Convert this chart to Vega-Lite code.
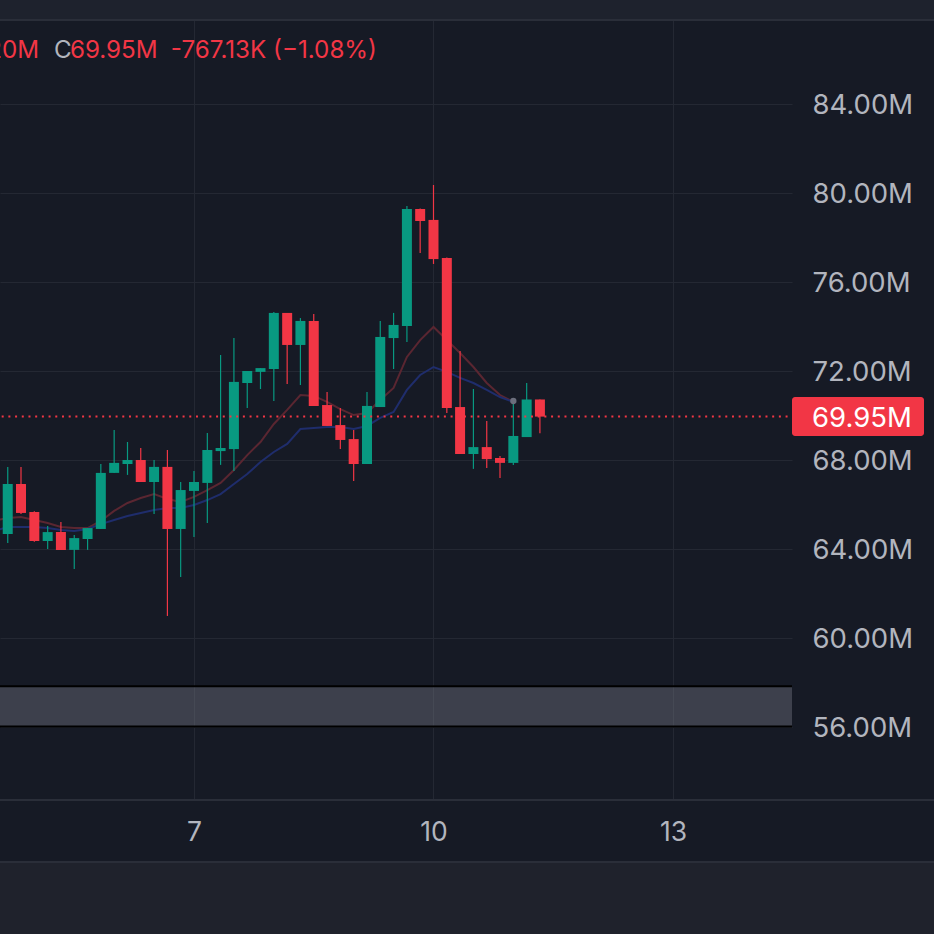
{
  "$schema": "https://vega.github.io/schema/vega-lite/v6.json",
  "width": 792,
  "height": 780,
  "autosize": {"type": "none"},
  "padding": {"left": 0, "top": 20, "right": 142, "bottom": 134},
  "background": "#161a25",
  "config": {
    "view": {"stroke": null, "fill": "#161a25"},
    "font": "Inter",
    "axis": {"labelFont": "Inter", "labelColor": "#b2b5be", "gridColor": "#242833", "gridWidth": 1, "ticks": false, "tickSize": 0, "domain": false, "title": null}
  },
  "datasets": {
    "candles": [
      {"t": 4.5, "o": 63.85, "h": 64.75, "l": 63.82, "c": 64.72},
      {"t": 4.667, "o": 64.67, "h": 67.69, "l": 64.27, "c": 66.92},
      {"t": 4.833, "o": 66.92, "h": 67.69, "l": 65.57, "c": 65.62},
      {"t": 5.0, "o": 65.66, "h": 65.7, "l": 64.33, "c": 64.36},
      {"t": 5.167, "o": 64.36, "h": 65.03, "l": 64.0, "c": 64.76},
      {"t": 5.333, "o": 64.76, "h": 65.21, "l": 63.96, "c": 63.96},
      {"t": 5.5, "o": 63.96, "h": 64.63, "l": 63.1, "c": 64.49},
      {"t": 5.667, "o": 64.45, "h": 64.94, "l": 63.96, "c": 64.94},
      {"t": 5.833, "o": 64.9, "h": 67.82, "l": 64.9, "c": 67.42},
      {"t": 6.0, "o": 67.42, "h": 69.35, "l": 67.42, "c": 67.87},
      {"t": 6.167, "o": 67.82, "h": 68.81, "l": 67.33, "c": 68.0},
      {"t": 6.333, "o": 68.0, "h": 68.54, "l": 67.01, "c": 67.01},
      {"t": 6.5, "o": 67.01, "h": 68.0, "l": 65.57, "c": 67.69},
      {"t": 6.667, "o": 67.69, "h": 68.45, "l": 60.99, "c": 64.9},
      {"t": 6.833, "o": 64.9, "h": 67.01, "l": 62.74, "c": 66.65},
      {"t": 7.0, "o": 66.61, "h": 67.51, "l": 64.54, "c": 67.01},
      {"t": 7.167, "o": 66.97, "h": 69.21, "l": 65.17, "c": 68.45},
      {"t": 7.333, "o": 68.4, "h": 72.72, "l": 67.78, "c": 68.54},
      {"t": 7.5, "o": 68.49, "h": 73.48, "l": 67.51, "c": 71.51},
      {"t": 7.667, "o": 71.46, "h": 72.0, "l": 70.34, "c": 72.0},
      {"t": 7.833, "o": 71.96, "h": 72.13, "l": 71.19, "c": 72.13},
      {"t": 8.0, "o": 72.09, "h": 74.65, "l": 70.65, "c": 74.61},
      {"t": 8.167, "o": 74.61, "h": 74.61, "l": 71.42, "c": 73.17},
      {"t": 8.333, "o": 73.17, "h": 74.38, "l": 71.37, "c": 74.25},
      {"t": 8.5, "o": 74.25, "h": 74.56, "l": 70.43, "c": 70.43},
      {"t": 8.667, "o": 70.47, "h": 71.06, "l": 69.53, "c": 69.53},
      {"t": 8.833, "o": 69.57, "h": 70.34, "l": 68.49, "c": 68.9},
      {"t": 9.0, "o": 68.94, "h": 69.35, "l": 67.06, "c": 67.82},
      {"t": 9.167, "o": 67.82, "h": 71.06, "l": 67.82, "c": 70.43},
      {"t": 9.333, "o": 70.38, "h": 74.25, "l": 70.38, "c": 73.53},
      {"t": 9.5, "o": 73.48, "h": 74.61, "l": 72.09, "c": 74.07},
      {"t": 9.667, "o": 74.02, "h": 79.42, "l": 73.3, "c": 79.28},
      {"t": 9.833, "o": 79.28, "h": 79.3, "l": 77.3, "c": 78.74},
      {"t": 10.0, "o": 78.79, "h": 80.36, "l": 76.81, "c": 77.03},
      {"t": 10.167, "o": 77.08, "h": 77.1, "l": 70.11, "c": 70.34},
      {"t": 10.333, "o": 70.38, "h": 72.9, "l": 68.27, "c": 68.27},
      {"t": 10.5, "o": 68.27, "h": 71.19, "l": 67.6, "c": 68.58},
      {"t": 10.667, "o": 68.58, "h": 69.75, "l": 67.64, "c": 68.04},
      {"t": 10.833, "o": 68.09, "h": 68.18, "l": 67.19, "c": 67.87},
      {"t": 11.0, "o": 67.87, "h": 70.65, "l": 67.78, "c": 69.08},
      {"t": 11.167, "o": 69.03, "h": 71.46, "l": 69.03, "c": 70.72},
      {"t": 11.333, "o": 70.72, "h": 70.72, "l": 69.2, "c": 69.95}
    ],
    "ma": [
      {"t": 4.5, "v": 65.28, "s": "fast"}, {"t": 4.667, "v": 65.39, "s": "fast"}, {"t": 4.833, "v": 65.44, "s": "fast"}, {"t": 5.0, "v": 65.3, "s": "fast"},
      {"t": 5.167, "v": 65.17, "s": "fast"}, {"t": 5.333, "v": 64.99, "s": "fast"}, {"t": 5.5, "v": 64.94, "s": "fast"}, {"t": 5.667, "v": 64.94, "s": "fast"},
      {"t": 5.833, "v": 65.26, "s": "fast"}, {"t": 6.0, "v": 65.71, "s": "fast"}, {"t": 6.167, "v": 66.07, "s": "fast"}, {"t": 6.333, "v": 66.29, "s": "fast"},
      {"t": 6.5, "v": 66.47, "s": "fast"}, {"t": 6.667, "v": 66.25, "s": "fast"}, {"t": 6.833, "v": 66.11, "s": "fast"}, {"t": 7.0, "v": 66.34, "s": "fast"},
      {"t": 7.167, "v": 66.65, "s": "fast"}, {"t": 7.333, "v": 66.97, "s": "fast"}, {"t": 7.5, "v": 67.55, "s": "fast"}, {"t": 7.667, "v": 68.22, "s": "fast"},
      {"t": 7.833, "v": 68.81, "s": "fast"}, {"t": 8.0, "v": 69.62, "s": "fast"}, {"t": 8.167, "v": 70.25, "s": "fast"}, {"t": 8.333, "v": 70.92, "s": "fast"},
      {"t": 8.5, "v": 70.88, "s": "fast"}, {"t": 8.667, "v": 70.61, "s": "fast"}, {"t": 8.833, "v": 70.29, "s": "fast"}, {"t": 9.0, "v": 70.02, "s": "fast"},
      {"t": 9.167, "v": 70.11, "s": "fast"}, {"t": 9.333, "v": 70.7, "s": "fast"}, {"t": 9.5, "v": 71.24, "s": "fast"}, {"t": 9.667, "v": 72.63, "s": "fast"},
      {"t": 9.833, "v": 73.39, "s": "fast"}, {"t": 10.0, "v": 73.98, "s": "fast"}, {"t": 10.167, "v": 73.39, "s": "fast"}, {"t": 10.333, "v": 72.81, "s": "fast"},
      {"t": 10.5, "v": 72.18, "s": "fast"}, {"t": 10.667, "v": 71.46, "s": "fast"}, {"t": 10.833, "v": 70.92, "s": "fast"}, {"t": 11.0, "v": 70.61, "s": "fast"},
      {"t": 4.5, "v": 64.81, "s": "slow"}, {"t": 4.667, "v": 64.99, "s": "slow"}, {"t": 4.833, "v": 64.99, "s": "slow"}, {"t": 5.0, "v": 64.99, "s": "slow"},
      {"t": 5.167, "v": 64.94, "s": "slow"}, {"t": 5.333, "v": 64.85, "s": "slow"}, {"t": 5.5, "v": 64.81, "s": "slow"}, {"t": 5.667, "v": 64.9, "s": "slow"},
      {"t": 5.833, "v": 65.12, "s": "slow"}, {"t": 6.0, "v": 65.3, "s": "slow"}, {"t": 6.167, "v": 65.48, "s": "slow"}, {"t": 6.333, "v": 65.62, "s": "slow"},
      {"t": 6.5, "v": 65.75, "s": "slow"}, {"t": 6.667, "v": 65.84, "s": "slow"}, {"t": 6.833, "v": 65.84, "s": "slow"}, {"t": 7.0, "v": 65.98, "s": "slow"},
      {"t": 7.167, "v": 66.2, "s": "slow"}, {"t": 7.333, "v": 66.47, "s": "slow"}, {"t": 7.5, "v": 66.92, "s": "slow"}, {"t": 7.667, "v": 67.37, "s": "slow"},
      {"t": 7.833, "v": 67.91, "s": "slow"}, {"t": 8.0, "v": 68.36, "s": "slow"}, {"t": 8.167, "v": 68.72, "s": "slow"}, {"t": 8.333, "v": 69.39, "s": "slow"},
      {"t": 8.5, "v": 69.44, "s": "slow"}, {"t": 8.667, "v": 69.48, "s": "slow"}, {"t": 8.833, "v": 69.48, "s": "slow"}, {"t": 9.0, "v": 69.39, "s": "slow"},
      {"t": 9.167, "v": 69.53, "s": "slow"}, {"t": 9.333, "v": 69.89, "s": "slow"}, {"t": 9.5, "v": 70.16, "s": "slow"}, {"t": 9.667, "v": 71.15, "s": "slow"},
      {"t": 9.833, "v": 71.82, "s": "slow"}, {"t": 10.0, "v": 72.18, "s": "slow"}, {"t": 10.167, "v": 71.96, "s": "slow"}, {"t": 10.333, "v": 71.69, "s": "slow"},
      {"t": 10.5, "v": 71.46, "s": "slow"}, {"t": 10.667, "v": 71.15, "s": "slow"}, {"t": 10.833, "v": 70.83, "s": "slow"}, {"t": 11.0, "v": 70.61, "s": "slow"}
    ]
  },
  "encoding": {
    "x": {
      "field": "t", "type": "quantitative",
      "scale": {"domain": [4.57, 14.4906], "nice": false, "zero": false, "padding": 0},
      "axis": {"orient": "bottom", "values": [7, 10, 13], "format": "d", "grid": true, "labelBaseline": "middle", "labelPadding": 32, "labelFontSize": 26.5}
    },
    "y": {
      "field": "v", "type": "quantitative",
      "scale": {"domain": [52.719, 87.775], "nice": false, "zero": false, "padding": 0},
      "axis": {"orient": "right", "values": [56, 60, 64, 68, 72, 76, 80, 84], "labelExpr": "format(datum.value, '.2f') + 'M'", "grid": true, "labelAlign": "left", "labelBaseline": "middle", "labelPadding": 20, "labelOffset": 2, "labelFontSize": 27.5}
    }
  },
  "layer": [
    {
      "data": {"values": [{"t": 3.5, "t2": 17.5, "v": 87.775, "v2": 92}]},
      "mark": {"type": "rect", "fill": "#1e222d", "stroke": "#2a2e39", "strokeWidth": 2},
      "encoding": {"x2": {"field": "t2"}, "y2": {"field": "v2"}}
    },
    {
      "data": {"values": [{"t": 3.5, "t2": 17.5, "v": 49.93, "v2": 44}]},
      "mark": {"type": "rect", "fill": "#1f222c", "stroke": "#2a2e39", "strokeWidth": 2},
      "encoding": {"x2": {"field": "t2"}, "y2": {"field": "v2"}}
    },
    {
      "data": {"values": [{"t": 3.5, "t2": 17.5, "v": 52.719}]},
      "mark": {"type": "rule", "stroke": "#2a2e39", "strokeWidth": 2},
      "encoding": {"x2": {"field": "t2"}}
    },
    {
      "data": {"values": [{"t": 3.5, "t2": 14.4906, "v": 57.8, "v2": 56.045}]},
      "mark": {"type": "rect", "fill": "#787b86", "fillOpacity": 0.4},
      "encoding": {"x2": {"field": "t2"}, "y2": {"field": "v2"}}
    },
    {
      "data": {"values": [{"t": 3.5, "t2": 14.4906, "v": 57.83}, {"t": 3.5, "t2": 14.4906, "v": 56.02}]},
      "mark": {"type": "rule", "stroke": "#000000", "strokeWidth": 2},
      "encoding": {"x2": {"field": "t2"}}
    },
    {
      "data": {"name": "ma"},
      "mark": {"type": "line", "strokeWidth": 2},
      "encoding": {
        "color": {"field": "s", "type": "nominal", "scale": {"domain": ["fast", "slow"], "range": ["#5a2631", "#1f2d6c"]}, "legend": null}
      }
    },
    {
      "data": {"name": "candles"},
      "mark": {"type": "rule", "strokeWidth": 1.2},
      "encoding": {
        "y": {"field": "l", "type": "quantitative", "scale": {"domain": [52.719, 87.775], "nice": false, "zero": false, "padding": 0},
          "axis": {"orient": "right", "values": [56, 60, 64, 68, 72, 76, 80, 84], "labelExpr": "format(datum.value, '.2f') + 'M'", "grid": true, "labelAlign": "left", "labelBaseline": "middle", "labelPadding": 20, "labelOffset": 2, "labelFontSize": 27.5}},
        "y2": {"field": "h"},
        "color": {"condition": {"test": "datum.c >= datum.o", "value": "#089981"}, "value": "#f23645"}
      }
    },
    {
      "data": {"name": "candles"},
      "mark": {"type": "bar", "size": 10},
      "encoding": {
        "y": {"field": "o", "type": "quantitative", "scale": {"domain": [52.719, 87.775], "nice": false, "zero": false, "padding": 0},
          "axis": {"orient": "right", "values": [56, 60, 64, 68, 72, 76, 80, 84], "labelExpr": "format(datum.value, '.2f') + 'M'", "grid": true, "labelAlign": "left", "labelBaseline": "middle", "labelPadding": 20, "labelOffset": 2, "labelFontSize": 27.5}},
        "y2": {"field": "c"},
        "color": {"condition": {"test": "datum.c >= datum.o", "value": "#089981"}, "value": "#f23645"}
      }
    },
    {
      "data": {"values": [{"t": 3.5, "t2": 14.4906, "v": 69.95}]},
      "mark": {"type": "rule", "stroke": "#f23645", "strokeWidth": 2, "strokeDash": [2, 4.7]},
      "encoding": {"x2": {"field": "t2"}}
    },
    {
      "data": {"values": [{"t": 11.0, "v": 70.65}]},
      "mark": {"type": "point", "filled": true, "size": 40, "color": "#6b6e7c", "opacity": 1}
    },
    {
      "data": {"values": [{"t": 14.4906, "t2": 16.144, "v": 70.83, "v2": 69.08}]},
      "mark": {"type": "rect", "fill": "#f23645", "cornerRadius": 3},
      "encoding": {"x2": {"field": "t2"}, "y2": {"field": "v2"}}
    },
    {
      "data": {"values": [{"t": 14.741, "v": 69.95, "txt": "69.95M"}]},
      "mark": {"type": "text", "align": "left", "baseline": "middle", "dy": 2, "font": "Inter", "fontSize": 27.5, "color": "#ffffff"},
      "encoding": {"text": {"field": "txt"}}
    },
    {
      "data": {"values": [{"t": 5.059, "v": 86.38, "txt": "L69.20M", "part": "val"}]},
      "mark": {"type": "text", "align": "right", "baseline": "middle", "font": "Inter", "fontSize": 24.2},
      "encoding": {
        "text": {"field": "txt"},
        "color": {"condition": {"test": "datum.part == 'key'", "value": "#b2b5be"}, "value": "#f23645"}
      }
    },
    {
      "data": {"values": [
        {"t": 5.246, "v": 86.38, "txt": "C", "part": "key"},
        {"t": 5.446, "v": 86.38, "txt": "69.95M", "part": "val"},
        {"t": 6.71, "v": 86.38, "txt": "-767.13K (−1.08%)", "part": "val"}
      ]},
      "mark": {"type": "text", "align": "left", "baseline": "middle", "font": "Inter", "fontSize": 24.2},
      "encoding": {
        "text": {"field": "txt"},
        "color": {"condition": {"test": "datum.part == 'key'", "value": "#b2b5be"}, "value": "#f23645"}
      }
    }
  ]
}
